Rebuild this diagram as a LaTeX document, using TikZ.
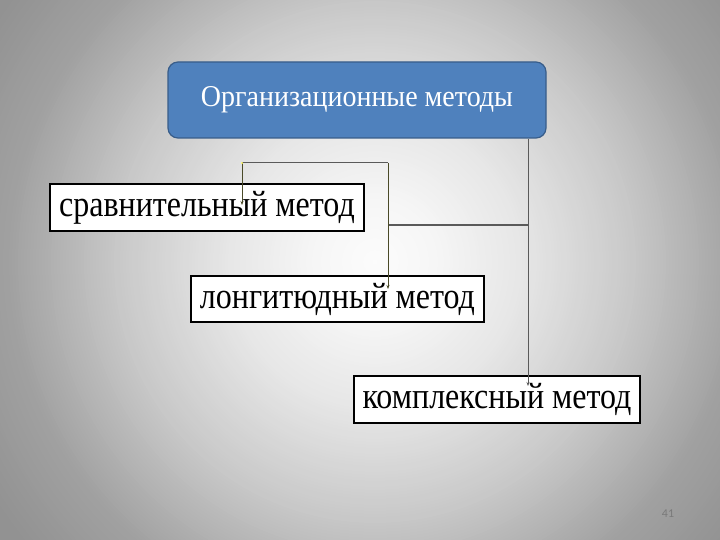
\documentclass[tikz,border=0pt]{standalone}
\usepackage{fontspec}
\usepackage{graphicx}
\setmainfont{Liberation Serif}
\newfontfamily\pgnumfont{Carlito}
\usetikzlibrary{arrows.meta}
\definecolor{topfill}{HTML}{4F81BD}
\definecolor{topline}{HTML}{385D8A}
\definecolor{olive}{HTML}{4A4A28}
\definecolor{lgray}{HTML}{5A5A5A}
\newcommand{\vstr}[2]{\scalebox{1}[#1]{#2}}
\tikzset{
  methodbox/.style={draw=black, line width=1.8pt, fill=white, inner sep=0pt,
    font=\fontsize{32}{34}\selectfont, text=black},
  topbox/.style={draw=topline, line width=1.2pt, fill=topfill, rounded corners=10pt,
    inner sep=0pt, font=\fontsize{28}{30}\selectfont, text=white},
  conn/.style={draw=lgray, line width=1pt},
  oconn/.style={draw=olive, line width=1pt},
  tip/.style={-{Stealth[length=4pt,width=3pt]}}
}
\begin{document}
\begin{tikzpicture}[x=1pt,y=-1pt]
\useasboundingbox (0,0) rectangle (720,540);
\begin{scope}
\clip (0,0) rectangle (720,540);
\coordinate (bgc) at (375,262);
\foreach \r in {480,477,...,0} {
  \pgfmathsetmacro\g{\r<60 ? 0.988-0.023*\r/60 : (\r<150 ? 0.965-0.063*(\r-60)/90 : (\r<260 ? 0.902-0.118*(\r-150)/110 : (\r<370 ? 0.784-0.157*(\r-260)/110 : (\r<452 ? 0.627-0.054*(\r-370)/82 : 0.573))))}
  \definecolor{ring}{gray}{\g}
  \fill[ring] (bgc) circle (\r);
}
\end{scope}
\node[topbox, minimum width=378pt, minimum height=76pt] (top) at (357,100) {\vstr{1.08}{Организационные методы}};
\node[methodbox, minimum width=314pt, minimum height=47pt] (b1) at (207,207.5) {\vstr{1.15}{сравнительный метод}};
\node[methodbox, minimum width=293pt, minimum height=46pt] (b2) at (337.5,299) {\vstr{1.15}{лонгитюдный метод}};
\node[methodbox, minimum width=286pt, minimum height=47pt] (b3) at (497,399.5) {\vstr{1.15}{комплексный метод}};
\coordinate (j1) at (528,225);
\coordinate (j2) at (388,225);
\coordinate (t2) at (388,163);
\coordinate (t1) at (242,163);
\coordinate (e1) at (242,205);
\coordinate (e2) at (388,289);
\coordinate (e3) at (528,386);
\draw[conn, tip] (top.south -| j1) -- (e3);
\draw[conn, line width=1.5pt] (j1) -- (j2);
\draw[oconn, tip] (t2) -- (e2);
\draw[conn] (t2) -- (t1);
\draw[oconn, tip] (t1) -- (e1);
\fill[yellow!60!white] (t1) circle (1.2pt);
\node[text=black!52, font=\pgnumfont\fontsize{12}{14}\selectfont] (pg) at (668,514) {41};
\end{tikzpicture}
\end{document}
